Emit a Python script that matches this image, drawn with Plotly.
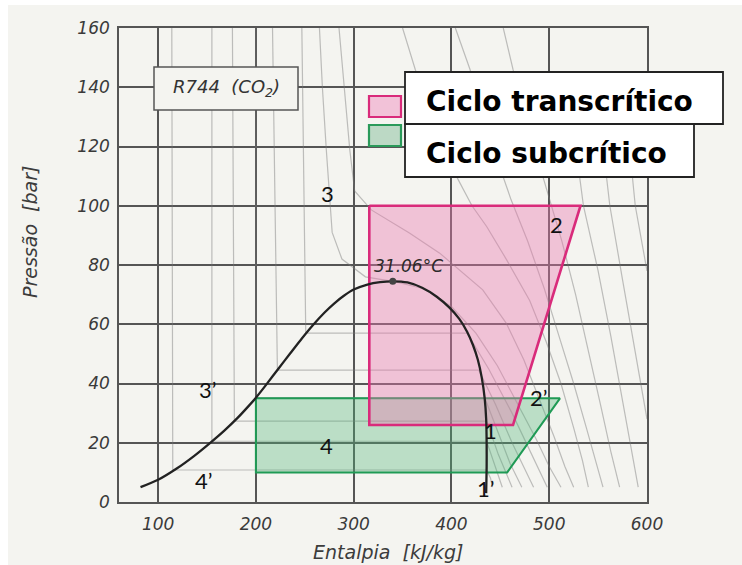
import plotly.graph_objects as go

# ---------------- data ----------------
# saturation dome of R744 (enthalpy kJ/kg, pressure bar)
dome_h = [82, 100, 119, 137, 153, 168, 181, 192, 200, 211, 223, 235, 247, 258, 270,
          280, 290, 300, 314, 327, 340, 355, 370, 385, 398, 408, 416, 422, 427, 431,
          434, 435.5, 436, 436, 435.5]
dome_p = [5, 7.5, 11.3, 15.6, 19.9, 24.2, 28.3, 32.2, 35.2, 39.8, 45.0, 50.1, 55.2, 59.6, 63.9,
          67.0, 69.6, 71.7, 73.4, 74.2, 74.5, 74.1, 72.3, 69.3, 65.6, 61.8, 57.5, 53, 48, 42,
          35, 28, 20, 12, 3]

crit_h = [340]
crit_p = [74.5]
crit_label = "31.06°C"

# cycles
trans_h = [316, 532, 463, 316, 316]
trans_p = [100, 100, 26, 26, 100]
sub_h = [200, 511, 457, 200, 200]
sub_p = [35, 35, 10, 10, 35]

# background isotherms (faint lines)
iso_m40_h = [114, 115, 436, 440, 442]
iso_m40_p = [160, 10.8, 10.8, 8, 5]
iso_m20_h = [155, 155, 436, 445, 452]
iso_m20_p = [160, 20.5, 20.5, 12, 5]
iso_m10_h = [176, 178, 436, 448, 462]
iso_m10_p = [160, 27.3, 27.3, 16, 5]
iso_0_h = [200, 200, 434, 448, 460, 472]
iso_0_p = [160, 35.2, 35.2, 23, 13, 5]
iso_10_h = [217, 222, 428, 445, 462, 484]
iso_10_p = [160, 44.5, 44.5, 33, 20, 5]
iso_20_h = [247, 251, 416, 438, 462, 482, 498]
iso_20_p = [160, 57, 57, 45, 30, 16, 5]
iso_31_h = [265, 268, 272, 278, 288, 312, 340, 372, 400, 425, 447, 468, 487, 500, 512]
iso_31_p = [160, 140, 119, 91, 82, 76, 74.5, 72, 66, 57, 46, 33, 21, 12, 5]
iso_40_h = [285, 290, 296, 301, 318, 357, 388, 432, 456, 474, 491, 505, 516, 525]
iso_40_p = [160, 140, 119, 105, 98.6, 90.8, 84, 71.6, 60.4, 48, 34, 22, 12, 5]
iso_50_h = [350, 363, 385, 405, 421, 436, 456, 480, 497, 512, 525, 534, 540]
iso_50_p = [160, 146, 125, 110, 100, 93, 82, 68, 54, 40, 25, 14, 5]
iso_60_h = [404, 419, 440, 461, 478, 495, 510, 525, 538, 547, 555]
iso_60_p = [160, 146, 122, 102, 88, 72, 56, 40, 25, 14, 5]
iso_70_h = [453, 463, 480, 498, 513, 527, 541, 553, 563, 572]
iso_70_p = [160, 146, 125, 105, 88, 70, 50, 32, 17, 5]
iso_80_h = [520, 525, 535, 550, 563, 574, 584, 591]
iso_80_p = [140, 125, 100, 78, 56, 36, 18, 5]
iso_90_h = [548, 555, 562, 575, 588, 600]
iso_90_p = [140, 120, 100, 75, 50, 28]
iso_100_h = [578, 582, 588, 600]
iso_100_p = [140, 120, 100, 78]

isolines = [
    (iso_m40_h, iso_m40_p), (iso_m20_h, iso_m20_p), (iso_m10_h, iso_m10_p),
    (iso_0_h, iso_0_p), (iso_10_h, iso_10_p), (iso_20_h, iso_20_p),
    (iso_31_h, iso_31_p), (iso_40_h, iso_40_p), (iso_50_h, iso_50_p),
    (iso_60_h, iso_60_p), (iso_70_h, iso_70_p), (iso_80_h, iso_80_p),
    (iso_90_h, iso_90_p), (iso_100_h, iso_100_p),
]

# point labels
pt_labels = ["3", "2", "3’", "4", "4’", "1", "1’", "2’"]
pt_h = [273.7, 507, 150, 272.7, 146, 440.4, 435.3, 489.5]
pt_p = [104.3, 93.8, 38.1, 19.2, 7.4, 24.3, 4.4, 35.4]

x_ticks = [100, 200, 300, 400, 500, 600]
y_ticks = [0, 20, 40, 60, 80, 100, 120, 140, 160]

legend_names = ["Ciclo transcrítico", "Ciclo subcrítico"]

# ---------------- layout geometry ----------------
W, H = 742, 565
L, R, T, B = 119, 647, 28, 502   # plot area pixel edges
BG = "#f4f4f0"
GRID = "#555555"


def px(xp):
    return (xp - L) / (R - L)


def py(yp):
    return (B - yp) / (B - T)


fig = go.Figure()

for hh, pp in isolines:
    fig.add_trace(go.Scatter(x=hh, y=pp, mode="lines", hoverinfo="skip",
                             line=dict(color="rgba(120,120,120,0.45)", width=1.2),
                             showlegend=False))

fig.add_trace(go.Scatter(x=sub_h, y=sub_p, mode="lines", fill="toself",
                         fillcolor="rgba(80,180,120,0.35)",
                         line=dict(color="#1f9a55", width=2), showlegend=False))
fig.add_trace(go.Scatter(x=trans_h, y=trans_p, mode="lines", fill="toself",
                         fillcolor="rgba(236,120,175,0.40)",
                         line=dict(color="#d92b7b", width=2.6), showlegend=False))
fig.add_trace(go.Scatter(x=dome_h, y=dome_p, mode="lines",
                         line=dict(color="#222222", width=2.3, shape="spline",
                                   smoothing=0.8),
                         showlegend=False))
fig.add_trace(go.Scatter(x=crit_h, y=crit_p, mode="markers",
                         marker=dict(color="#444", size=7), showlegend=False))

annotations = []
for t, xh, yp in zip(pt_labels, pt_h, pt_p):
    annotations.append(dict(x=xh, y=yp, xref="x", yref="y", text=t, showarrow=False,
                            xanchor="center", yanchor="middle",
                            font=dict(family="Lato", size=22, color="#111")))

annotations.append(dict(x=px(372), y=py(266), xref="paper", yref="paper",
                        text=crit_label, showarrow=False, xanchor="left",
                        yanchor="middle",
                        font=dict(family="DejaVu Sans", size=17, color="#2a2a2a",
                                  style="italic")))

# title box text
annotations.append(dict(x=px(226), y=py(88), xref="paper", yref="paper",
                        xanchor="center", yanchor="middle",
                        text="R744  (CO<sub>2</sub>)", showarrow=False,
                        font=dict(family="DejaVu Sans", size=18, color="#333",
                                  style="italic")))

# legend texts
annotations.append(dict(x=px(424), y=py(101), xref="paper", yref="paper",
                        xanchor="left", yanchor="middle", text=legend_names[0],
                        showarrow=False,
                        font=dict(family="DejaVu Sans", size=28, color="#000",
                                  weight="bold")))
annotations.append(dict(x=px(424), y=py(153), xref="paper", yref="paper",
                        xanchor="left", yanchor="middle", text=legend_names[1],
                        showarrow=False,
                        font=dict(family="DejaVu Sans", size=28, color="#000",
                                  weight="bold")))

# axis titles
annotations.append(dict(x=px(388), y=py(552), xref="paper", yref="paper",
                        xanchor="center", yanchor="middle",
                        text="Entalpia  [kJ/kg]", showarrow=False,
                        font=dict(family="DejaVu Sans", size=19, color="#3c3c3c",
                                  style="italic")))
annotations.append(dict(x=px(30), y=py(232), xref="paper", yref="paper",
                        xanchor="center", yanchor="middle",
                        text="Pressão  [bar]", showarrow=False, textangle=-90,
                        font=dict(family="DejaVu Sans", size=19, color="#3c3c3c",
                                  style="italic")))

shapes = [
    # page background panel
    dict(type="rect", xref="paper", yref="paper", layer="below",
         x0=px(8), x1=px(W + 5), y0=py(H + 5), y1=py(5),
         fillcolor=BG, line=dict(width=0)),
    # R744 box
    dict(type="rect", xref="paper", yref="paper", layer="above",
         x0=px(154), x1=px(298), y0=py(110), y1=py(67),
         fillcolor=BG, line=dict(color="#555", width=1.5)),
    # legend swatches
    dict(type="rect", xref="paper", yref="paper", layer="above",
         x0=px(369), x1=px(401), y0=py(117), y1=py(96),
         fillcolor="#f2c2d8", line=dict(color="#d92b7b", width=2.2)),
    dict(type="rect", xref="paper", yref="paper", layer="above",
         x0=px(369), x1=px(401), y0=py(146), y1=py(125),
         fillcolor="#bcd9c5", line=dict(color="#2a9a5a", width=2.2)),
    # legend text boxes
    dict(type="rect", xref="paper", yref="paper", layer="above",
         x0=px(405), x1=px(723), y0=py(124), y1=py(72),
         fillcolor="white", line=dict(color="#222", width=1.8)),
    dict(type="rect", xref="paper", yref="paper", layer="above",
         x0=px(405), x1=px(694), y0=py(177), y1=py(124),
         fillcolor="white", line=dict(color="#222", width=1.8)),
]

tickfont = dict(family="DejaVu Sans", size=17, color="#3a3a3a", style="italic")

fig.update_layout(
    width=W, height=H, autosize=False,
    margin=dict(l=L, r=W - R, t=T, b=H - B, pad=0),
    paper_bgcolor="white", plot_bgcolor="rgba(0,0,0,0)",
    showlegend=False,
    annotations=annotations, shapes=shapes,
    xaxis=dict(range=[60, 600], tickvals=x_ticks, showgrid=True, gridcolor=GRID,
               gridwidth=1.6, showline=True, linecolor=GRID, linewidth=1.6,
               mirror=True, zeroline=False, ticks="", tickfont=tickfont,
               ticklabelstandoff=6),
    yaxis=dict(range=[0, 160], tickvals=y_ticks, showgrid=True, gridcolor=GRID,
               gridwidth=1.6, showline=True, linecolor=GRID, linewidth=1.6,
               mirror=True, zeroline=False, ticks="", tickfont=tickfont,
               ticklabelstandoff=4),
)

fig.write_html("out.html")
